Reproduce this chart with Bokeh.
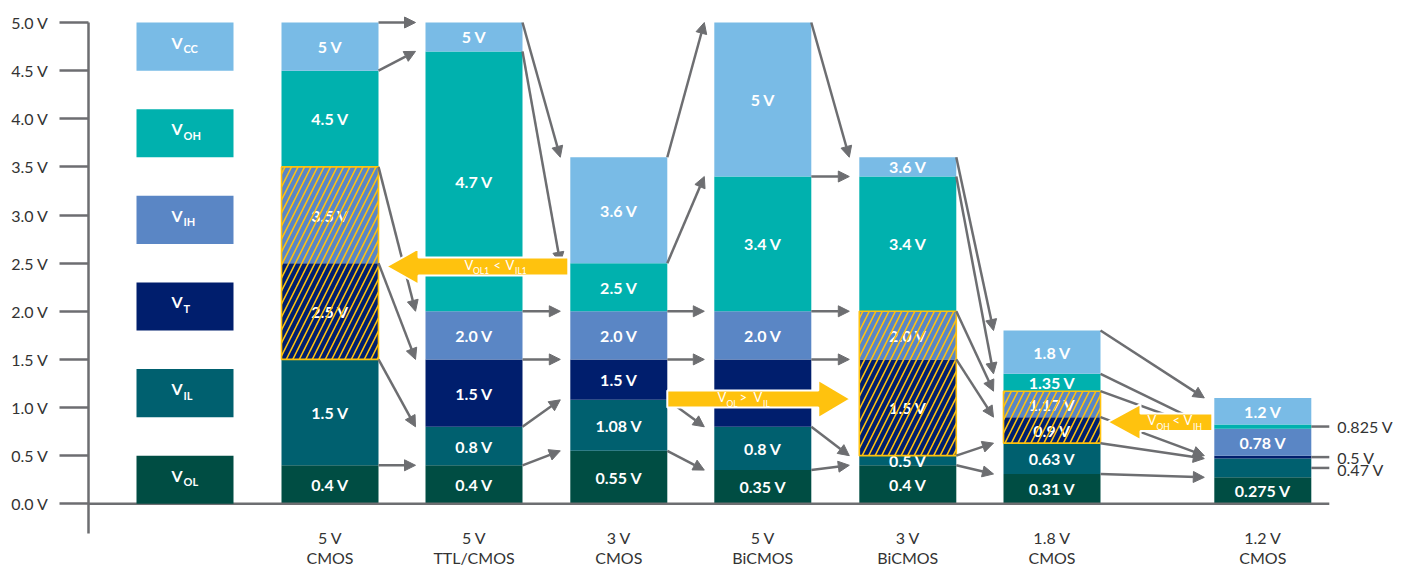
from bokeh.plotting import figure
from bokeh.models import Range1d, FixedTicker, PrintfTickFormatter, ColumnDataSource, Arrow, NormalHead
from bokeh.core.properties import value
from bokeh.embed import file_html
from bokeh.resources import INLINE

# ---------------- data ----------------
cat_volt = ["5 V", "5 V", "3 V", "5 V", "3 V", "1.8 V", "1.2 V"]
cat_tech = ["CMOS", "TTL/CMOS", "CMOS", "BiCMOS", "BiCMOS", "CMOS", "CMOS"]
level_sub = ["OL", "IL", "T", "IH", "OH", "CC"]          # V_OL ... V_CC (bottom to top)

vol_top = [0.4, 0.4, 0.55, 0.35, 0.4, 0.31, 0.275]
vil_top = [1.5, 0.8, 1.08, 0.8, 0.5, 0.63, 0.47]
vt_top = [2.5, 1.5, 1.5, 1.5, 1.5, 0.9, 0.5]
vih_top = [3.5, 2.0, 2.0, 2.0, 2.0, 1.17, 0.78]
voh_top = [4.5, 4.7, 2.5, 3.4, 3.4, 1.35, 0.825]
vcc_top = [5.0, 5.0, 3.6, 5.0, 3.6, 1.8, 1.1]

vol_lbl = ["0.4 V", "0.4 V", "0.55 V", "0.35 V", "0.4 V", "0.31 V", "0.275 V"]
vil_lbl = ["1.5 V", "0.8 V", "1.08 V", "0.8 V", "0.5 V", "0.63 V", ""]
vt_lbl = ["2.5 V", "1.5 V", "1.5 V", "", "1.5 V", "0.9 V", ""]
vih_lbl = ["3.5 V", "2.0 V", "2.0 V", "2.0 V", "2.0 V", "1.17 V", "0.78 V"]
voh_lbl = ["4.5 V", "4.7 V", "2.5 V", "3.4 V", "3.4 V", "1.35 V", ""]
vcc_lbl = ["5 V", "5 V", "3.6 V", "5 V", "3.6 V", "1.8 V", "1.2 V"]

side_levels = [1, 2, 4]                      # VIL, VT, VOH of last column
side_lbl = ["0.47 V", "0.5 V", "0.825 V"]

hatched = [True, False, False, False, True, True, False]
yticks = [0.0, 0.5, 1.0, 1.5, 2.0, 2.5, 3.0, 3.5, 4.0, 4.5, 5.0]

# yellow comparison notes: (text, is_subscript)
note1 = [("V", 0), ("OL1", 1), ("<", 0), ("V", 0), ("IL1", 1)]
note2 = [("V", 0), ("OL", 1), (">", 0), ("V", 0), ("IL", 1)]
note3 = [("V", 0), ("OH", 1), ("<", 0), ("V", 0), ("IH", 1)]

tops = [vol_top, vil_top, vt_top, vih_top, voh_top, vcc_top]
lbls = [vol_lbl, vil_lbl, vt_lbl, vih_lbl, voh_lbl, vcc_lbl]

# ---------------- layout / style ----------------
W, H = 1408, 565
FRAME_LEFT = 88
PX_PER_V = 96.26
ZERO_PY = 503.3
col_cx = [329.5, 473.5, 618.3, 762.3, 907.3, 1051.5, 1262.3]
leg_cx = 184.5
half = 48.5
PX = 1.0 / PX_PER_V

GREY = "#6D6E71"
YEL = "#FFC20E"
TXT = "#333333"
FONT = value("Lato")
colors = ["#004D43", "#00606F", "#001E6D", "#5A86C5", "#00B1AE", "#79BBE6"]


def vy(py):
    return (ZERO_PY - py) / PX_PER_V


p = figure(width=W, height=H, x_range=Range1d(FRAME_LEFT, W), y_range=Range1d(vy(H), vy(0)),
           output_backend="svg", toolbar_location=None, x_axis_location=None,
           min_border_left=FRAME_LEFT, min_border_right=0, min_border_top=0, min_border_bottom=0)
p.xgrid.grid_line_color = None
p.ygrid.grid_line_color = None
p.outline_line_color = None
p.background_fill_color = "white"
p.border_fill_color = "white"

ax = p.yaxis[0]
ax.ticker = FixedTicker(ticks=yticks)
ax.formatter = PrintfTickFormatter(format="%.1f V")
ax.bounds = (vy(533), 5.0)
ax.axis_line_color = GREY
ax.axis_line_width = 2.5
ax.major_tick_line_color = GREY
ax.major_tick_line_width = 2.5
ax.major_tick_out = 29
ax.major_tick_in = 0
ax.minor_tick_out = 0
ax.minor_tick_in = 0
ax.major_label_standoff = 11
ax.major_label_text_font = "Lato"
ax.major_label_text_font_size = "16px"
ax.major_label_text_color = TXT

# ---- stacked bars ----
L, R, B, T, C = [], [], [], [], []
lx, ly, lt = [], [], []
for i, cx in enumerate(col_cx):
    bottom = 0.0
    for k in range(6):
        top = tops[k][i]
        L.append(cx - half); R.append(cx + half); B.append(bottom); T.append(top); C.append(colors[k])
        if lbls[k][i]:
            lx.append(cx); ly.append((bottom + top) / 2); lt.append(lbls[k][i])
        bottom = top
p.quad(left=L, right=R, bottom=B, top=T, fill_color=C, line_color=None)
p.text(x=lx, y=ly, text=lt, text_color="white", text_font=FONT, text_font_style="bold",
       text_font_size="16px", text_align="center", text_baseline="middle")

# ---- hatched (switching region) overlay ----
hi = [i for i, h in enumerate(hatched) if h]
p.quad(left=[col_cx[i] - half for i in hi], right=[col_cx[i] + half for i in hi],
       bottom=[vil_top[i] for i in hi], top=[vih_top[i] for i in hi],
       fill_color=None, hatch_pattern="/", hatch_color=YEL, hatch_weight=1.6, hatch_scale=13,
       line_color=YEL, line_width=1.6)

# ---- baseline ----
last_r = col_cx[-1] + half
p.segment(x0=[FRAME_LEFT], y0=[0], x1=[last_r + 18], y1=[0], line_color=GREY, line_width=2.5)

# ---- right side ticks for last column ----
sy = []
for k in side_levels:
    b = tops[k - 1][-1]
    sy.append((b + tops[k][-1]) / 2)
p.segment(x0=[last_r] * 3, y0=sy, x1=[last_r + 18] * 3, y1=sy, line_color=GREY, line_width=2.5)
p.text(x=[last_r + 26] * 3, y=[sy[0] - 2 * PX, sy[1], sy[2]], text=side_lbl, text_color=TXT, text_font=FONT,
       text_font_size="16px", text_align="left", text_baseline="middle")

# ---- category labels ----
p.text(x=col_cx, y=[vy(537)] * 7, text=cat_volt, text_color=TXT, text_font=FONT, text_font_size="16px",
       text_align="center", text_baseline="middle")
p.text(x=col_cx, y=[vy(556.5)] * 7, text=cat_tech, text_color=TXT, text_font=FONT, text_font_size="16px",
       text_align="center", text_baseline="middle")

# ---- legend column ----
lb = [k * 0.9 for k in range(6)]
p.quad(left=[leg_cx - half] * 6, right=[leg_cx + half] * 6, bottom=lb, top=[b + 0.5 for b in lb],
       fill_color=colors, line_color=None)
p.text(x=[leg_cx - 13.5] * 6, y=[b + 0.25 + 4.5 * PX for b in lb], text=["V"] * 6, text_color="white",
       text_font=FONT, text_font_style="bold", text_font_size="16px", text_align="left", text_baseline="middle")
p.text(x=[leg_cx - 1.5] * 6, y=[b + 0.25 - 2 * PX for b in lb], text=level_sub, text_color="white",
       text_font=FONT, text_font_style="bold", text_font_size="11px", text_align="left", text_baseline="middle")

# ---- grey transition arrows ----
ax0, ay0, ax1, ay1 = [], [], [], []
for i in range(len(col_cx) - 1):
    for k in range(6):
        ax0.append(col_cx[i] + half); ay0.append(tops[k][i])
        ax1.append(col_cx[i + 1] - half - 10); ay1.append(tops[k][i + 1])
asrc = ColumnDataSource(dict(x0=ax0, y0=ay0, x1=ax1, y1=ay1))
p.add_layout(Arrow(end=NormalHead(size=11, fill_color=GREY, line_color=GREY, line_width=1),
                   x_start="x0", y_start="y0", x_end="x1", y_end="y1", source=asrc,
                   line_color=GREY, line_width=2.5))

# ---- yellow comparison arrows ----
notes = [
    dict(tail=col_cx[2] - half - 2, tip=col_cx[0] + half + 8, yc=vy(266), hb=9, hh=18, hl=32, tx=495,
         pieces=note1, offs=[-31, -22.5, -2, 10, 19.5]),
    dict(tail=col_cx[2] + half, tip=col_cx[4] - half - 9, yc=vy(398.5), hb=8.5, hh=19, hl=32, tx=742,
         pieces=note2, offs=[-25, -16, -3, 11, 20.5]),
    dict(tail=col_cx[6] - half - 2, tip=col_cx[5] + half + 7, yc=vy(421.7), hb=8.7, hh=18, hl=33, tx=1174,
         pieces=note3, offs=[-27, -18, -2, 9, 18.5]),
]
pxs, pys = [], []
tx_, ty_, tt_, ts_ = [], [], [], []
for n in notes:
    d = 1 if n["tip"] > n["tail"] else -1
    base = n["tip"] - d * n["hl"]
    yc, hb, hh = n["yc"], n["hb"] * PX, n["hh"] * PX
    pxs.append([n["tail"], base, base, n["tip"], base, base, n["tail"]])
    pys.append([yc + hb, yc + hb, yc + hh, yc, yc - hh, yc - hb, yc - hb])
    for (t, sub), o in zip(n["pieces"], n["offs"]):
        tx_.append(n["tx"] + o)
        if sub:
            ty_.append(yc - 4.5 * PX); tt_.append(t); ts_.append("8.5px")
        else:
            ty_.append(yc + 1.8 * PX); tt_.append(t); ts_.append("13px")
p.patches(xs=pxs, ys=pys, fill_color=YEL, line_color="white", line_width=2, level="overlay")
src_t = ColumnDataSource(dict(x=tx_, y=ty_, text=tt_, size=ts_))
p.text(x="x", y="y", text="text", text_font_size="size", source=src_t, text_color="white", text_font=FONT,
       text_align="left", text_baseline="middle", level="overlay")

open("out.html", "w").write(file_html(p, INLINE))
